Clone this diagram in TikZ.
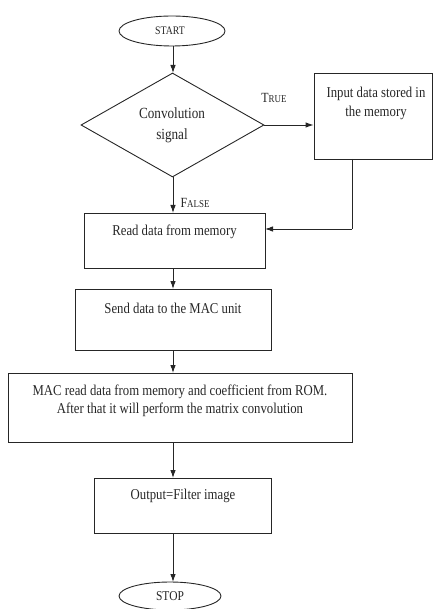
\documentclass[tikz,border=0pt]{standalone}
\usepackage{fontspec}
\setmainfont{Liberation Serif}[FakeStretch=0.85]
\usetikzlibrary{arrows.meta,shapes.geometric}
\begin{document}
\begin{tikzpicture}[x=1pt,y=-1pt,
  line width=0.9pt,
  every node/.style={font=\fontsize{15}{19}\selectfont, text=black!85, inner sep=0pt},
  box/.style={draw=black!85, rectangle, fill=none},
  term/.style={draw=black!85, ellipse, inner sep=0pt},
  arr/.style={draw=black!85, -{Latex[length=8pt,width=5.5pt]}},
  ln/.style={draw=black!85}]
\useasboundingbox (0,0) rectangle (434,609);

% terminals
\node[term, minimum width=106pt, minimum height=30pt] (start) at (172,31) {};
\node[font=\fontsize{11.5}{13}\selectfont] (startt) at (170,31) {START};

% decision
\node[draw=black!85, diamond, minimum width=183pt, minimum height=104pt, aspect=1.76] (dec) at (172.5,125) {};
\node[align=center, font=\fontsize{15.5}{21}\selectfont] (dect) at (172,125.5) {Convolution\\signal};

% process boxes
\node[box, minimum width=118pt, minimum height=86pt] (inp) at (373,116) {};
\node[align=center] (inpt) at (376,103) {Input data stored in\\the memory};

\node[box, minimum width=181pt, minimum height=55pt] (read) at (174.5,240.5) {};
\node (readt) at (174.5,232) {Read data from memory};

\node[box, minimum width=196pt, minimum height=61pt] (send) at (173,319.5) {};
\node (sendt) at (173,308) {Send data to the MAC unit};

\node[box, minimum width=344pt, minimum height=69pt] (mac) at (180,407.5) {};
\node[align=center, font=\fontsize{15}{18}\selectfont] (mact) at (180,401) {MAC read data from memory and coefficient from ROM.\\After that it will perform the matrix convolution};

\node[box, minimum width=177pt, minimum height=55pt] (out) at (182.5,505.5) {};
\node (outt) at (183,496) {Output=Filter image};

\node[term, minimum width=102pt, minimum height=28pt] (stop) at (170,596) {};
\node[font=\fontsize{13.5}{15}\selectfont] (stopt) at (170,596) {STOP};

% branch labels
\node[font=\fontsize{14}{15}\selectfont] (truel) at (274,98) {T{\fontsize{10.5}{12}\selectfont RUE}};
\node[font=\fontsize{14}{15}\selectfont] (falsel) at (195,203) {F{\fontsize{10.5}{12}\selectfont ALSE}};

% connectors
\coordinate (sx) at (173,46);
\coordinate (dtop) at (173,73);
\draw[arr] (sx) -- (dtop);
\draw[arr] (dec.east) -- (inp.west |- dec.east);
\coordinate (dbot) at (173,177);
\coordinate (rtop) at (173,213);
\draw[arr] (dbot) -- (rtop);
\coordinate (ib) at (352,159);
\coordinate (ic) at (352,229);
\coordinate (rr) at (265,229);
\draw[ln] (ib) -- (ic);
\draw[arr] (ic) -- (rr);
\draw[arr] (173,268) -- (173,289);
\draw[arr] (173,350) -- (173,373);
\draw[arr] (173,442) -- (173,478);
\draw[arr] (173,533) -- (173,582);
\end{tikzpicture}
\end{document}
